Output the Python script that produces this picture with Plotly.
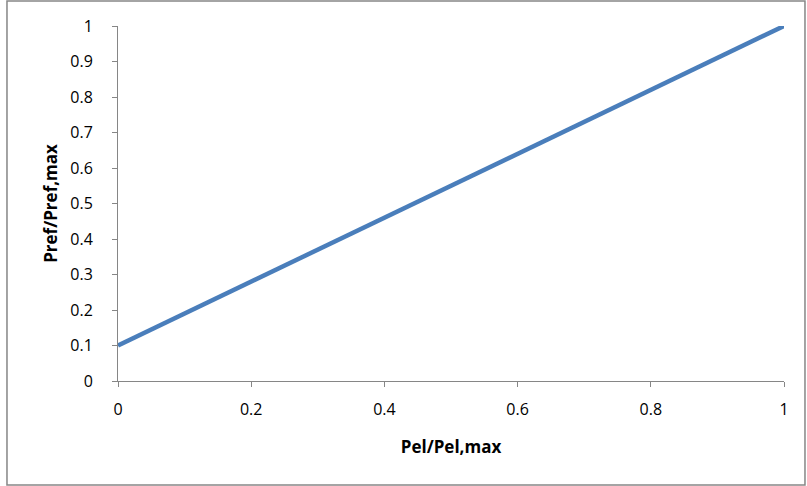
import plotly.graph_objects as go

pel_ratio = [0, 0.2, 0.4, 0.6, 0.8, 1.0]
pref_ratio = [0.1, 0.28, 0.46, 0.64, 0.82, 1.0]

x_ticks = [0, 0.2, 0.4, 0.6, 0.8, 1]
x_labels = ['0', '0.2', '0.4', '0.6', '0.8', '1']
y_ticks = [0, 0.1, 0.2, 0.3, 0.4, 0.5, 0.6, 0.7, 0.8, 0.9, 1]
y_labels = ['0', '0.1', '0.2', '0.3', '0.4', '0.5', '0.6', '0.7', '0.8', '0.9', '1']

font_family = 'Open Sans, sans-serif'

fig = go.Figure()
fig.add_trace(go.Scatter(
    x=pel_ratio,
    y=pref_ratio,
    mode='lines',
    line=dict(color='#4A7EBB', width=4.5),
    showlegend=False
))

axis_style = dict(
    showgrid=False,
    zeroline=False,
    showline=True,
    linecolor='#868686',
    linewidth=1,
    ticks='outside',
    ticklen=5,
    tickcolor='#868686',
    automargin=False,
    tickfont=dict(family=font_family, size=16, color='black'),
)

fig.update_layout(
    width=807,
    height=486,
    margin=dict(l=118, r=23, t=26, b=105),
    plot_bgcolor='white',
    paper_bgcolor='white',
    xaxis=dict(
        range=[0, 1],
        tickvals=x_ticks,
        ticktext=x_labels,
        title=dict(text='<b>Pel/Pel,max</b>', standoff=21,
                   font=dict(family=font_family, size=17, color='black')),
        ticklabelstandoff=9,
        **axis_style
    ),
    yaxis=dict(
        range=[0, 1],
        tickvals=y_ticks,
        ticktext=y_labels,
        title=dict(text='<b>Pref/Pref,max</b>', standoff=8,
                   font=dict(family=font_family, size=17, color='black')),
        ticklabelstandoff=16,
        **axis_style
    ),
    # light grey frame around the whole chart
    shapes=[dict(
        type='rect', xref='paper', yref='paper',
        x0=-0.1667, x1=1.0315, y0=-0.293, y1=1.0704,
        line=dict(color='#868686', width=1.5),
        fillcolor='rgba(0,0,0,0)', layer='below'
    )]
)

# drop the default 8px body margin so the figure sits at the page corner
fig.write_html("out.html", config={'displayModeBar': False},
               post_script="document.body.style.margin='0px';")
